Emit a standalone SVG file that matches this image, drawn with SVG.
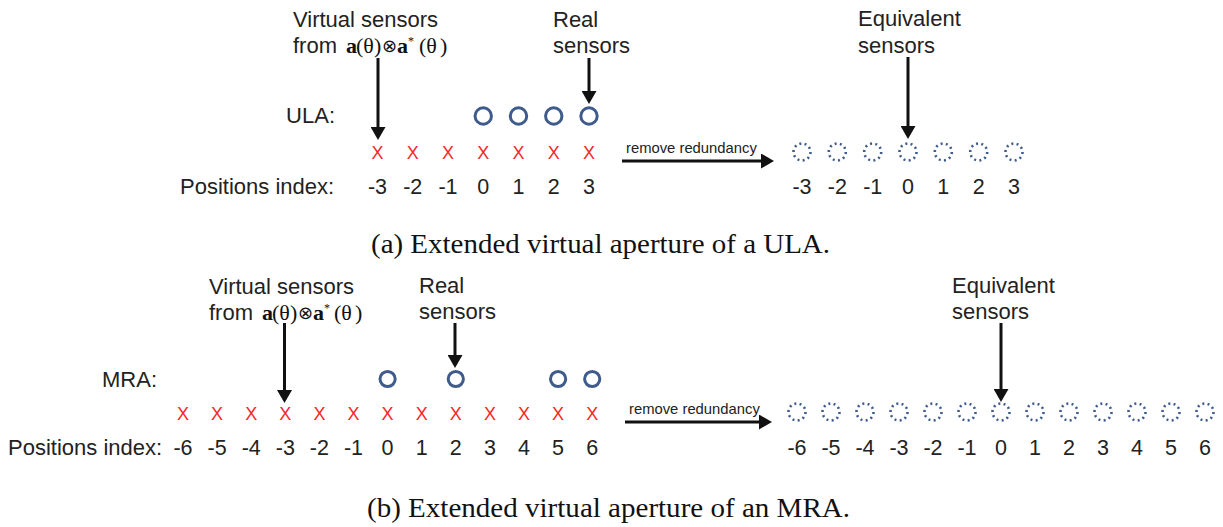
<svg xmlns="http://www.w3.org/2000/svg" width="1223" height="527" viewBox="0 0 1223 527">
  <style>
    .lbl { font-family: "Liberation Sans", Arial, sans-serif; font-size: 22px; fill: #222; }
    .num { font-family: "Liberation Sans", Arial, sans-serif; font-size: 21.5px; fill: #222; text-anchor: middle; }
    .small { font-family: "Liberation Sans", Arial, sans-serif; font-size: 14.8px; fill: #222; }
    .xm { font-family: "Liberation Sans", Arial, sans-serif; font-size: 18px; fill: #f52828; text-anchor: middle; }
    .mb { font-family: "Liberation Serif", "Times New Roman", serif; font-weight: bold; font-size: 22px; fill: #111; }
    .mr { font-family: "Liberation Serif", "Times New Roman", serif; font-size: 22px; fill: #111; }
    .op { font-family: "DejaVu Sans", sans-serif; font-size: 18px; fill: #111; }
    .sup { font-family: "Liberation Serif", serif; font-size: 12px; fill: #111; }
    .cap { font-family: "Liberation Serif", "Times New Roman", serif; font-size: 27px; fill: #111; }
    .real { fill: none; stroke: #3f5b8c; stroke-width: 3; }
    .equiv { fill: none; stroke: #3f5b8c; stroke-width: 2.6; stroke-dasharray: 2 3.3; }
    .arrow { stroke: #111; stroke-width: 3; fill: none; marker-end: url(#head); }
  </style>
  <defs>
    <marker id="head" markerUnits="userSpaceOnUse" markerWidth="14" markerHeight="15" refX="5" refY="7.5" orient="auto">
      <path d="M0,0 L13,7.5 L0,15 z" fill="#111"/>
    </marker>
  </defs>

  <rect width="1223" height="527" fill="#fff"/>

  <!-- ===== (a) ULA ===== -->
  <g id="ula-virtual-label">
    <text class="lbl" x="293" y="27">Virtual sensors</text>
    <text class="lbl" x="293" y="53">from</text>
    <text class="mb" x="346" y="53">a</text>
    <text class="mr" x="356" y="53">(θ</text>
    <text class="mr" x="374" y="53">)</text>
    <text class="op" x="382" y="52">⊗</text>
    <text class="mb" x="397" y="53">a</text>
    <text class="sup" x="408" y="45">*</text>
    <text class="mr" x="419" y="53">(θ</text>
    <text class="mr" x="440" y="53">)</text>
  </g>
  <g id="ula-real-label">
    <text class="lbl" x="553" y="27">Real</text>
    <text class="lbl" x="553" y="53">sensors</text>
  </g>
  <g id="ula-equivalent-label">
    <text class="lbl" x="858" y="26">Equivalent</text>
    <text class="lbl" x="858" y="53">sensors</text>
  </g>
  <g id="ula-label">
    <text class="lbl" x="335" y="123" text-anchor="end">ULA:</text>
  </g>
  <g id="ula-real-sensors">
    <circle class="real" cx="483.25" cy="116" r="8.2"/>
    <circle class="real" cx="518.5" cy="116" r="8.2"/>
    <circle class="real" cx="553.75" cy="116" r="8.2"/>
    <circle class="real" cx="589" cy="116" r="8.2"/>
  </g>
  <g id="ula-virtual-sensors">
    <text class="xm" x="377.5" y="158.5">X</text>
    <text class="xm" x="412.75" y="158.5">X</text>
    <text class="xm" x="448" y="158.5">X</text>
    <text class="xm" x="483.25" y="158.5">X</text>
    <text class="xm" x="518.5" y="158.5">X</text>
    <text class="xm" x="553.75" y="158.5">X</text>
    <text class="xm" x="589" y="158.5">X</text>
  </g>
  <g id="ula-remove-label">
    <text class="small" x="626" y="153">remove redundancy</text>
  </g>
  <g id="ula-equivalent-sensors">
    <circle class="equiv" cx="802" cy="152" r="8.5"/>
    <circle class="equiv" cx="837.3" cy="152" r="8.5"/>
    <circle class="equiv" cx="872.7" cy="152" r="8.5"/>
    <circle class="equiv" cx="908" cy="152" r="8.5"/>
    <circle class="equiv" cx="943.3" cy="152" r="8.5"/>
    <circle class="equiv" cx="978.7" cy="152" r="8.5"/>
    <circle class="equiv" cx="1014" cy="152" r="8.5"/>
  </g>
  <g id="ula-positions">
    <text class="lbl" x="180" y="194">Positions index:</text>
    <text class="num" x="377.5" y="194">-3</text>
    <text class="num" x="412.75" y="194">-2</text>
    <text class="num" x="448" y="194">-1</text>
    <text class="num" x="483.25" y="194">0</text>
    <text class="num" x="518.5" y="194">1</text>
    <text class="num" x="553.75" y="194">2</text>
    <text class="num" x="589" y="194">3</text>
    <text class="num" x="802" y="194">-3</text>
    <text class="num" x="837.3" y="194">-2</text>
    <text class="num" x="872.7" y="194">-1</text>
    <text class="num" x="908" y="194">0</text>
    <text class="num" x="943.3" y="194">1</text>
    <text class="num" x="978.7" y="194">2</text>
    <text class="num" x="1014" y="194">3</text>
  </g>
  <g id="caption-a">
    <text class="cap" x="371" y="253" textLength="459" lengthAdjust="spacingAndGlyphs">(a)  Extended virtual aperture of a ULA.</text>
  </g>

  <!-- ===== (b) MRA ===== -->
  <g id="mra-virtual-label">
    <text class="lbl" x="209" y="294">Virtual sensors</text>
    <text class="lbl" x="209" y="320">from</text>
    <text class="mb" x="262" y="320">a</text>
    <text class="mr" x="272" y="320">(θ</text>
    <text class="mr" x="290" y="320">)</text>
    <text class="op" x="298" y="319">⊗</text>
    <text class="mb" x="313" y="320">a</text>
    <text class="sup" x="324" y="312">*</text>
    <text class="mr" x="334" y="320">(θ</text>
    <text class="mr" x="355" y="320">)</text>
  </g>
  <g id="mra-real-label">
    <text class="lbl" x="419" y="293">Real</text>
    <text class="lbl" x="419" y="319">sensors</text>
  </g>
  <g id="mra-equivalent-label">
    <text class="lbl" x="952" y="293">Equivalent</text>
    <text class="lbl" x="952" y="319">sensors</text>
  </g>
  <g id="mra-label">
    <text class="lbl" x="157" y="387" text-anchor="end">MRA:</text>
  </g>
  <g id="mra-real-sensors">
    <circle class="real" cx="387.6" cy="379" r="7.6"/>
    <circle class="real" cx="455.8" cy="379" r="7.6"/>
    <circle class="real" cx="558.1" cy="379" r="7.6"/>
    <circle class="real" cx="592.2" cy="379" r="7.6"/>
  </g>
  <g id="mra-virtual-sensors">
    <text class="xm" x="183" y="419.5">X</text>
    <text class="xm" x="217.1" y="419.5">X</text>
    <text class="xm" x="251.2" y="419.5">X</text>
    <text class="xm" x="285.3" y="419.5">X</text>
    <text class="xm" x="319.4" y="419.5">X</text>
    <text class="xm" x="353.5" y="419.5">X</text>
    <text class="xm" x="387.6" y="419.5">X</text>
    <text class="xm" x="421.7" y="419.5">X</text>
    <text class="xm" x="455.8" y="419.5">X</text>
    <text class="xm" x="489.9" y="419.5">X</text>
    <text class="xm" x="524" y="419.5">X</text>
    <text class="xm" x="558.1" y="419.5">X</text>
    <text class="xm" x="592.2" y="419.5">X</text>
  </g>
  <g id="mra-remove-label">
    <text class="small" x="629" y="414">remove redundancy</text>
  </g>
  <g id="mra-equivalent-sensors">
    <circle class="equiv" cx="797" cy="412" r="8.5"/>
    <circle class="equiv" cx="831" cy="412" r="8.5"/>
    <circle class="equiv" cx="865" cy="412" r="8.5"/>
    <circle class="equiv" cx="899" cy="412" r="8.5"/>
    <circle class="equiv" cx="933" cy="412" r="8.5"/>
    <circle class="equiv" cx="967" cy="412" r="8.5"/>
    <circle class="equiv" cx="1001" cy="412" r="8.5"/>
    <circle class="equiv" cx="1035" cy="412" r="8.5"/>
    <circle class="equiv" cx="1069" cy="412" r="8.5"/>
    <circle class="equiv" cx="1103" cy="412" r="8.5"/>
    <circle class="equiv" cx="1137" cy="412" r="8.5"/>
    <circle class="equiv" cx="1171" cy="412" r="8.5"/>
    <circle class="equiv" cx="1205" cy="412" r="8.5"/>
  </g>
  <g id="mra-positions">
    <text class="lbl" x="8" y="455">Positions index:</text>
    <text class="num" x="183" y="455">-6</text>
    <text class="num" x="217.1" y="455">-5</text>
    <text class="num" x="251.2" y="455">-4</text>
    <text class="num" x="285.3" y="455">-3</text>
    <text class="num" x="319.4" y="455">-2</text>
    <text class="num" x="353.5" y="455">-1</text>
    <text class="num" x="387.6" y="455">0</text>
    <text class="num" x="421.7" y="455">1</text>
    <text class="num" x="455.8" y="455">2</text>
    <text class="num" x="489.9" y="455">3</text>
    <text class="num" x="524" y="455">4</text>
    <text class="num" x="558.1" y="455">5</text>
    <text class="num" x="592.2" y="455">6</text>
    <text class="num" x="797" y="455">-6</text>
    <text class="num" x="831" y="455">-5</text>
    <text class="num" x="865" y="455">-4</text>
    <text class="num" x="899" y="455">-3</text>
    <text class="num" x="933" y="455">-2</text>
    <text class="num" x="967" y="455">-1</text>
    <text class="num" x="1001" y="455">0</text>
    <text class="num" x="1035" y="455">1</text>
    <text class="num" x="1069" y="455">2</text>
    <text class="num" x="1103" y="455">3</text>
    <text class="num" x="1137" y="455">4</text>
    <text class="num" x="1171" y="455">5</text>
    <text class="num" x="1205" y="455">6</text>
  </g>
  <g id="caption-b">
    <text class="cap" x="367" y="517" textLength="483" lengthAdjust="spacingAndGlyphs">(b)  Extended virtual aperture of an MRA.</text>
  </g>

  <!-- connectors -->
  <g id="connectors">
    <line class="arrow" x1="378" y1="58" x2="378" y2="132"/>
    <line class="arrow" x1="589" y1="58" x2="589" y2="96"/>
    <line class="arrow" x1="908" y1="57" x2="908" y2="131"/>
    <line class="arrow" x1="622" y1="161" x2="766" y2="161"/>
    <line class="arrow" x1="284.5" y1="323" x2="284.5" y2="395"/>
    <line class="arrow" x1="455" y1="323" x2="455" y2="360"/>
    <line class="arrow" x1="1001" y1="323" x2="1001" y2="394"/>
    <line class="arrow" x1="625" y1="422" x2="764" y2="422"/>
  </g>
</svg>
